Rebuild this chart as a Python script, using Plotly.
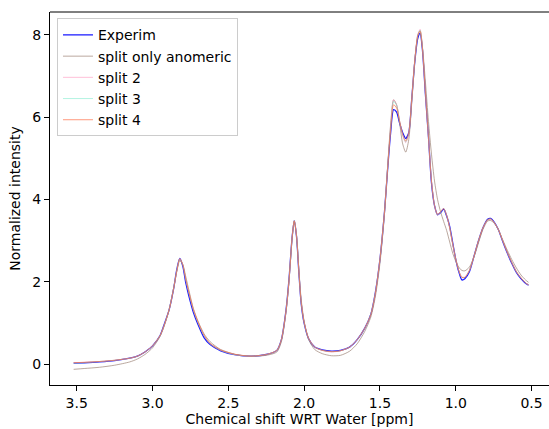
import plotly.graph_objects as go

# Chemical shift grid (ppm)
ppm = [3.52, 3.45, 3.35, 3.25, 3.15, 3.10, 3.05, 3.00, 2.95, 2.92,
       2.89, 2.86, 2.84, 2.82, 2.80, 2.78, 2.76, 2.73, 2.70, 2.66,
       2.62, 2.55, 2.45, 2.35, 2.25, 2.18, 2.15, 2.12, 2.10, 2.08,
       2.065, 2.05, 2.035, 2.02, 2.00, 1.97, 1.93, 1.88, 1.82, 1.76,
       1.70, 1.65, 1.60, 1.56, 1.53, 1.50, 1.47, 1.45, 1.43, 1.41,
       1.39, 1.37, 1.35, 1.33, 1.31, 1.29, 1.27, 1.25, 1.235, 1.22,
       1.20, 1.18, 1.16, 1.14, 1.12, 1.10, 1.08, 1.06, 1.04, 1.02,
       1.00, 0.98, 0.96, 0.94, 0.91, 0.88, 0.85, 0.82, 0.79, 0.77,
       0.75, 0.72, 0.69, 0.66, 0.63, 0.60, 0.57, 0.54, 0.52]

experim = [0.03, 0.04, 0.06, 0.09, 0.15, 0.20, 0.30, 0.45, 0.70, 1.00,
           1.33, 1.85, 2.30, 2.57, 2.38, 1.97, 1.66, 1.26, 0.97, 0.65,
           0.48, 0.33, 0.23, 0.20, 0.24, 0.34, 0.60, 1.30, 2.05, 3.05,
           3.49, 3.10, 2.25, 1.50, 1.00, 0.62, 0.42, 0.35, 0.32, 0.34,
           0.42, 0.60, 0.88, 1.22, 1.75, 2.55, 3.70, 4.70, 5.60, 6.18,
           6.12, 5.85, 5.62, 5.48, 5.62, 6.45, 7.35, 7.92, 8.03, 7.65,
           6.55, 5.52, 4.40, 3.85, 3.63, 3.68, 3.77, 3.60, 3.35, 2.95,
           2.55, 2.25, 2.05, 2.08, 2.25, 2.62, 3.00, 3.32, 3.52, 3.54,
           3.47, 3.28, 2.98, 2.70, 2.45, 2.23, 2.08, 1.97, 1.92]

split_anomeric = [-0.12, -0.10, -0.07, -0.02, 0.06, 0.13, 0.24, 0.40, 0.68, 0.96,
                  1.33, 1.86, 2.25, 2.52, 2.42, 2.12, 1.80, 1.35, 1.05, 0.74,
                  0.55, 0.36, 0.24, 0.20, 0.22, 0.30, 0.55, 1.25, 2.00, 3.00,
                  3.47, 3.12, 2.32, 1.60, 1.05, 0.60, 0.36, 0.26, 0.21, 0.22,
                  0.32, 0.50, 0.80, 1.15, 1.65, 2.45, 3.65, 4.75, 5.80, 6.42,
                  6.30, 5.85, 5.35, 5.15, 5.45, 6.35, 7.35, 8.00, 8.10, 7.72,
                  6.85, 5.90, 5.10, 4.45, 4.00, 3.70, 3.47, 3.25, 2.97, 2.70,
                  2.50, 2.36, 2.28, 2.27, 2.36, 2.60, 2.95, 3.28, 3.48, 3.49,
                  3.44, 3.28, 3.02, 2.77, 2.54, 2.34, 2.17, 2.05, 1.99]

split2 = [0.04, 0.05, 0.07, 0.10, 0.15, 0.20, 0.30, 0.45, 0.70, 0.98,
          1.33, 1.86, 2.27, 2.57, 2.42, 2.05, 1.74, 1.32, 1.02, 0.70,
          0.50, 0.34, 0.23, 0.20, 0.24, 0.34, 0.60, 1.28, 2.02, 3.05,
          3.50, 3.12, 2.28, 1.52, 1.02, 0.62, 0.42, 0.34, 0.30, 0.33,
          0.42, 0.60, 0.88, 1.22, 1.73, 2.55, 3.70, 4.75, 5.75, 6.42,
          6.30, 5.90, 5.55, 5.38, 5.58, 6.45, 7.40, 8.00, 8.13, 7.70,
          6.60, 5.50, 4.45, 3.85, 3.62, 3.70, 3.78, 3.62, 3.30, 2.90,
          2.55, 2.28, 2.12, 2.12, 2.28, 2.62, 3.00, 3.32, 3.50, 3.52,
          3.46, 3.28, 3.00, 2.72, 2.47, 2.25, 2.10, 1.98, 1.93]

split3 = [0.03, 0.04, 0.07, 0.10, 0.15, 0.20, 0.30, 0.45, 0.70, 0.98,
          1.33, 1.86, 2.27, 2.56, 2.42, 2.04, 1.73, 1.31, 1.01, 0.69,
          0.50, 0.34, 0.23, 0.20, 0.24, 0.34, 0.60, 1.28, 2.02, 3.05,
          3.49, 3.12, 2.28, 1.52, 1.02, 0.62, 0.42, 0.34, 0.31, 0.33,
          0.42, 0.60, 0.88, 1.22, 1.74, 2.55, 3.70, 4.75, 5.72, 6.38,
          6.28, 5.90, 5.57, 5.40, 5.60, 6.45, 7.38, 7.98, 8.10, 7.70,
          6.60, 5.52, 4.45, 3.86, 3.63, 3.70, 3.78, 3.62, 3.31, 2.92,
          2.56, 2.28, 2.11, 2.11, 2.28, 2.62, 3.00, 3.32, 3.51, 3.53,
          3.46, 3.28, 3.00, 2.72, 2.47, 2.25, 2.10, 1.98, 1.93]

split4 = [0.04, 0.05, 0.07, 0.10, 0.15, 0.20, 0.30, 0.45, 0.70, 0.98,
          1.33, 1.85, 2.26, 2.56, 2.42, 2.06, 1.75, 1.33, 1.03, 0.71,
          0.51, 0.35, 0.24, 0.20, 0.24, 0.34, 0.60, 1.28, 2.02, 3.04,
          3.48, 3.11, 2.28, 1.53, 1.03, 0.63, 0.42, 0.34, 0.31, 0.33,
          0.42, 0.60, 0.88, 1.21, 1.73, 2.55, 3.70, 4.72, 5.68, 6.30,
          6.22, 5.90, 5.58, 5.42, 5.62, 6.45, 7.38, 7.98, 8.08, 7.68,
          6.58, 5.52, 4.45, 3.86, 3.64, 3.71, 3.78, 3.62, 3.31, 2.92,
          2.56, 2.28, 2.11, 2.11, 2.28, 2.62, 3.00, 3.32, 3.51, 3.53,
          3.46, 3.28, 3.00, 2.72, 2.47, 2.25, 2.10, 1.98, 1.93]

series_names = ["Experim", "split only anomeric", "split 2", "split 3", "split 4"]
x_ticks = [3.5, 3.0, 2.5, 2.0, 1.5, 1.0, 0.5]
y_ticks = [0, 2, 4, 6, 8]

styles = [
    ("rgb(25,25,255)", 1.3),
    ("rgba(140,110,95,0.6)", 1.0),
    ("rgba(255,140,185,0.55)", 1.0),
    ("rgba(90,230,190,0.45)", 1.0),
    ("rgba(255,110,70,0.7)", 1.0),
]

fig = go.Figure()
for name, ys, (col, w) in zip(series_names,
                              [experim, split_anomeric, split2, split3, split4],
                              styles):
    fig.add_trace(go.Scatter(x=ppm, y=ys, mode="lines", name=name,
                             line=dict(color=col, width=w, shape="spline", smoothing=0.7)))

font = dict(family="DejaVu Sans", size=14, color="black")
fig.update_layout(
    width=549, height=429,
    margin=dict(l=50, r=0, t=11.5, b=43.5, autoexpand=False),
    paper_bgcolor="white", plot_bgcolor="white",
    font=font,
    showlegend=True,
    legend=dict(x=0.014, y=0.983, xanchor="left", yanchor="top",
                bgcolor="rgba(255,255,255,0.8)", bordercolor="#cccccc", borderwidth=1,
                font=dict(family="DejaVu Sans", size=14, color="black"),
                tracegroupgap=0),
    xaxis=dict(range=[3.676, 0.385], tickvals=x_ticks, ticktext=[f"{v:.1f}" for v in x_ticks],
               showgrid=False, zeroline=False, showline=True, linecolor="black", linewidth=1,
               ticks="outside", ticklen=5, tickcolor="black", tickwidth=1, automargin=False,
               title=dict(text="Chemical shift WRT Water [ppm]", standoff=2, font=font)),
    yaxis=dict(range=[-0.50, 8.55], tickvals=y_ticks, ticktext=[str(v) for v in y_ticks],
               showgrid=False, zeroline=False, showline=True, linecolor="black", linewidth=1,
               ticks="outside", ticklen=5, tickcolor="black", tickwidth=1, automargin=False,
               title=dict(text="Normalized intensity", standoff=8, font=font)),
    shapes=[dict(type="line", xref="paper", yref="paper", x0=0, x1=1, y0=1, y1=1,
                 line=dict(color="black", width=1))],
)

fig.write_html("out.html", config={"displayModeBar": False},
               post_script="document.body.style.margin='0px';document.body.style.overflow='hidden';")
